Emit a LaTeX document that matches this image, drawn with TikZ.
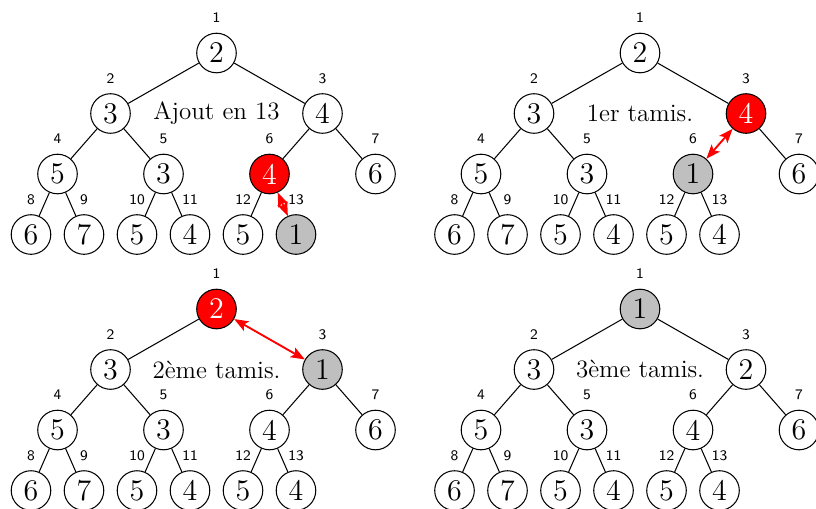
\documentclass[tikz,border=0pt]{standalone}
\usetikzlibrary{arrows.meta}

% positions of the 13 heap slots (index 0 unused)
\def\heapX{{0,216.5,110.5,322.5,57.5,163.5,269.5,375.5,31,84,137,190,243,296}}
\def\heapY{{0,53,113.5,113.5,174,174,174,174,234.5,234.5,234.5,234.5,234.5,234.5}}

\tikzset{
  heapnode/.style={circle, draw, line width=0.5pt, minimum size=19pt, inner sep=0pt, font=\Large, fill=white},
  hot/.style={fill=red, text=white},
  moved/.style={fill=lightgray},
  plain/.style={},
  idx/.style={font=\sffamily\scriptsize, inner sep=0pt},
  edge/.style={line width=0.5pt},
  swaparrow/.style={red, line width=0.9pt,
    {Stealth[length=6.8pt,width=5.2pt,inset=1.5pt]}-{Stealth[length=6.8pt,width=5.2pt,inset=1.5pt]}},
  caption/.style={font=\large}
}

% #1 name prefix, #2 shift, #3 index/value/style list,
% #4 child whose link to its parent is replaced by a swap arrow (0: none)
\newcommand{\heaptree}[4]{%
  \begin{scope}[shift={#2}]
    \foreach \i/\v/\s in {#3} {
      \pgfmathsetmacro{\hx}{\heapX[\i]}
      \pgfmathsetmacro{\hy}{\heapY[\i]}
      \node[heapnode,\s] (#1\i) at (\hx,\hy) {\v};
      \node[idx] (#1\i l) at (\hx,\hy-35) {\i};
    }
  \end{scope}
  \foreach \c in {2,...,13} {
    \pgfmathtruncatemacro{\p}{\c/2}
    \ifnum\c=#4\relax\else\draw[edge] (#1\p) -- (#1\c);\fi
  }%
}

\begin{document}
\begin{tikzpicture}[x=0.48pt, y=-0.48pt]
  \useasboundingbox (0,0) rectangle (816,508);
  \clip (0,0) rectangle (816,508);

  % insertion at slot 13
  \heaptree{a}{(0,0)}{1/2/plain,2/3/plain,3/4/plain,4/5/plain,5/3/plain,6/4/hot,7/6/plain,
    8/6/plain,9/7/plain,10/5/plain,11/4/plain,12/5/plain,13/1/moved}{13}
  \node[caption] (ta) at (216.5,113.5) {Ajout en 13};
  \draw[swaparrow] (a6) -- (a13);

  % first sift-up
  \heaptree{b}{(423.5,0)}{1/2/plain,2/3/plain,3/4/hot,4/5/plain,5/3/plain,6/1/moved,7/6/plain,
    8/6/plain,9/7/plain,10/5/plain,11/4/plain,12/5/plain,13/4/plain}{6}
  \node[caption] (tb) at (640,113.5) {1er tamis.};
  \draw[swaparrow] (b3) -- (b6);

  % second sift-up
  \heaptree{c}{(0,256)}{1/2/hot,2/3/plain,3/1/moved,4/5/plain,5/3/plain,6/4/plain,7/6/plain,
    8/6/plain,9/7/plain,10/5/plain,11/4/plain,12/5/plain,13/4/plain}{3}
  \node[caption] (tc) at (216.5,369.5) {2ème tamis.};
  \draw[swaparrow] (c1) -- (c3);

  % third sift-up: heap restored
  \heaptree{d}{(423.5,256)}{1/1/moved,2/3/plain,3/2/plain,4/5/plain,5/3/plain,6/4/plain,7/6/plain,
    8/6/plain,9/7/plain,10/5/plain,11/4/plain,12/5/plain,13/4/plain}{0}
  \node[caption] (td) at (640,369.5) {3ème tamis.};
\end{tikzpicture}
\end{document}
